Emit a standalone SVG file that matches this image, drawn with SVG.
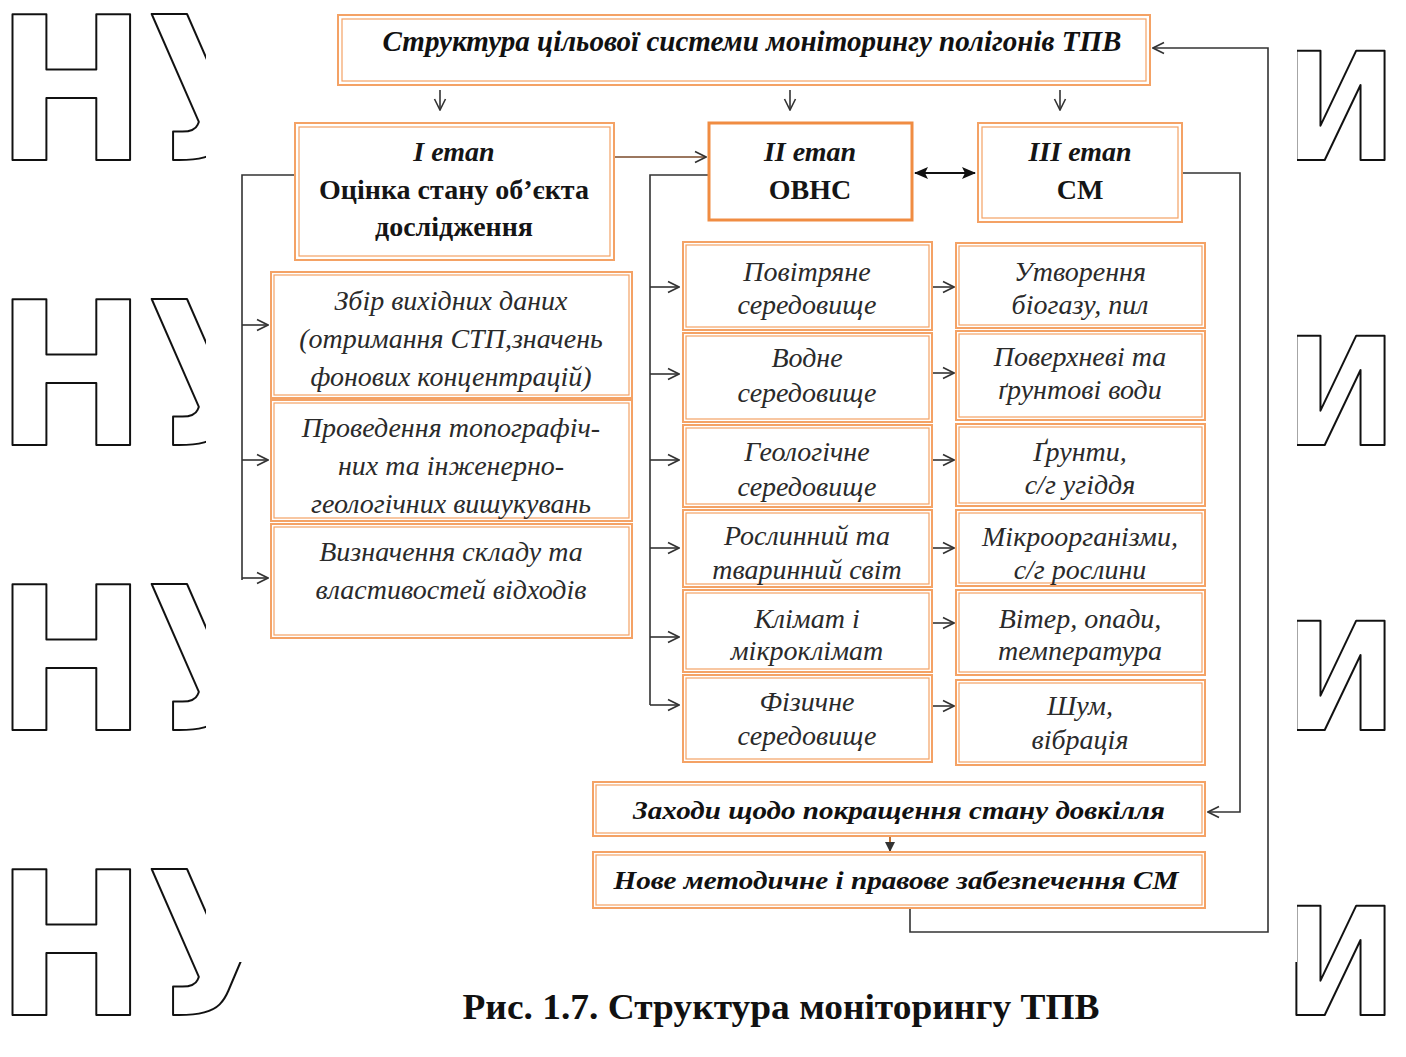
<svg xmlns="http://www.w3.org/2000/svg" width="1406" height="1057" viewBox="0 0 1406 1057">
<defs>
<style>
.wm{font-family:"DejaVu Sans",sans-serif;font-weight:bold;font-stretch:condensed;fill:none;stroke:#111;stroke-width:2;stroke-linejoin:round}
.ob{fill:#fff;stroke:#F4A265;stroke-width:2}
.ib{fill:none;stroke:#F4A265;stroke-width:1.2}
.sb{fill:#fff;stroke:#F08C42;stroke-width:3}
.hdr{font-family:"Liberation Serif","Times New Roman",serif;font-size:28px;font-weight:bold;fill:#151515;text-anchor:middle}
.hi{font-style:italic}
.it{font-family:"Liberation Serif","Times New Roman",serif;font-size:28px;font-style:italic;fill:#2a2a2a;text-anchor:middle}
.ttl{font-family:"Liberation Serif","Times New Roman",serif;font-size:29px;font-weight:bold;font-style:italic;fill:#111;text-anchor:middle}
.cap{font-family:"Liberation Serif","Times New Roman",serif;font-size:36px;font-weight:bold;fill:#111;text-anchor:middle}
.ln{fill:none;stroke:#333;stroke-width:1.6}
</style>
<marker id="op" viewBox="0 0 14 14" refX="13" refY="7" markerWidth="14" markerHeight="14" markerUnits="userSpaceOnUse" orient="auto"><path d="M2,1.5 L13,7 L2,12.5" fill="none" stroke="#333" stroke-width="1.6"/></marker>
<marker id="sd" viewBox="0 0 14 12" refX="13" refY="6" markerWidth="14" markerHeight="12" markerUnits="userSpaceOnUse" orient="auto-start-reverse"><path d="M0,0 L14,6 L0,12 L3,6 z" fill="#111"/></marker>
<marker id="sm" viewBox="0 0 10 10" refX="9" refY="5" markerWidth="10" markerHeight="10" markerUnits="userSpaceOnUse" orient="auto"><path d="M0,0 L10,5 L0,10 z" fill="#333"/></marker>
</defs>
<rect x="0" y="0" width="1406" height="1057" fill="#fff"/>
<g id="watermark">
<text class="wm" x="-4" y="160" font-size="200">НУ</text>
<text class="wm" x="-4" y="445" font-size="200">НУ</text>
<text class="wm" x="-4" y="730" font-size="200">НУ</text>
<text class="wm" x="-4" y="1015" font-size="200">НУ</text>
<text class="wm" x="1284" y="160" font-size="150">И</text>
<text class="wm" x="1284" y="445" font-size="150">И</text>
<text class="wm" x="1284" y="730" font-size="150">И</text>
<text class="wm" x="1284" y="1015" font-size="150">И</text>
</g>
<rect x="206" y="0" width="1091" height="962" fill="#fff"/>
<g id="connectors">
<path class="ln" d="M440,90 V110" marker-end="url(#op)"/>
<path class="ln" d="M790,90 V110" marker-end="url(#op)"/>
<path class="ln" d="M1060,90 V110" marker-end="url(#op)"/>
<path class="ln" d="M614,157 H706" style="stroke:#7a4a2a" marker-end="url(#op)"/>
<path class="ln" d="M915,173 H975" style="stroke:#111;stroke-width:2" marker-start="url(#sd)" marker-end="url(#sd)"/>
<path class="ln" d="M295,175 H242 V580"/>
<path class="ln" d="M242,325 H268" marker-end="url(#op)"/>
<path class="ln" d="M242,460 H268" marker-end="url(#op)"/>
<path class="ln" d="M242,578 H268" marker-end="url(#op)"/>
<path class="ln" d="M709,175 H650 V705"/>
<path class="ln" d="M650,287 H679" marker-end="url(#op)"/>
<path class="ln" d="M650,374 H679" marker-end="url(#op)"/>
<path class="ln" d="M650,460 H679" marker-end="url(#op)"/>
<path class="ln" d="M650,548 H679" marker-end="url(#op)"/>
<path class="ln" d="M650,637 H679" marker-end="url(#op)"/>
<path class="ln" d="M650,705 H679" marker-end="url(#op)"/>
<path class="ln" d="M932,287 H954" marker-end="url(#op)"/>
<path class="ln" d="M932,373 H954" marker-end="url(#op)"/>
<path class="ln" d="M932,460 H954" marker-end="url(#op)"/>
<path class="ln" d="M932,548 H954" marker-end="url(#op)"/>
<path class="ln" d="M932,623 H954" marker-end="url(#op)"/>
<path class="ln" d="M932,706 H954" marker-end="url(#op)"/>
<path class="ln" d="M1182,173 H1240 V812 H1208" marker-end="url(#op)"/>
<path class="ln" d="M910,908 V932 H1268 V48 H1153" marker-end="url(#op)"/>
<path class="ln" d="M890,836 V851" style="stroke:#c07030;stroke-width:2" marker-end="url(#sm)"/>
</g>
<g id="title">
<rect class="ob" x="338" y="15" width="812" height="70"/>
<rect class="ib" x="342" y="19" width="804" height="62"/>
<text class="ttl" x="752" y="51" textLength="739" lengthAdjust="spacingAndGlyphs">Структура цільової системи моніторингу полігонів ТПВ</text>
</g>
<g id="stage1">
<rect class="ob" x="295" y="123" width="319" height="137"/>
<rect class="ib" x="299" y="127" width="311" height="129"/>
<text class="hdr hi" x="454" y="161">I етап</text>
<text class="hdr" x="454" y="199">Оцінка стану об’єкта</text>
<text class="hdr" x="454" y="236">дослідження</text>
</g>
<g id="stage2">
<rect class="sb" x="709" y="123" width="203" height="97"/>
<text class="hdr hi" x="810" y="161">II етап</text>
<text class="hdr" x="810" y="199">ОВНС</text>
</g>
<g id="stage3">
<rect class="ob" x="978" y="123" width="204" height="99"/>
<rect class="ib" x="982" y="127" width="196" height="91"/>
<text class="hdr hi" x="1080" y="161">III етап</text>
<text class="hdr" x="1080" y="199">СМ</text>
</g>
<g id="s1a">
<rect class="ob" x="271" y="272" width="361" height="126"/>
<rect class="ib" x="274" y="275" width="355" height="120"/>
<text class="it" x="451" y="310">Збір вихідних даних</text>
<text class="it" x="451" y="348">(отримання СТП,значень</text>
<text class="it" x="451" y="386">фонових концентрацій)</text>
</g>
<g id="s1b">
<rect class="ob" x="271" y="400" width="361" height="121"/>
<rect class="ib" x="274" y="403" width="355" height="115"/>
<text class="it" x="451" y="437">Проведення топографіч-</text>
<text class="it" x="451" y="475">них та інженерно-</text>
<text class="it" x="451" y="513">геологічних вишукувань</text>
</g>
<g id="s1c">
<rect class="ob" x="271" y="524" width="361" height="114"/>
<rect class="ib" x="274" y="527" width="355" height="108"/>
<text class="it" x="451" y="561">Визначення складу та</text>
<text class="it" x="451" y="599">властивостей відходів</text>
</g>
<g id="s2a"><rect class="ob" x="683" y="242" width="249" height="88"/><rect class="ib" x="686" y="245" width="243" height="82"/>
<text class="it" x="807" y="281">Повітряне</text><text class="it" x="807" y="314">середовище</text></g>
<g id="s2b"><rect class="ob" x="683" y="333" width="249" height="89"/><rect class="ib" x="686" y="336" width="243" height="83"/>
<text class="it" x="807" y="367">Водне</text><text class="it" x="807" y="402">середовище</text></g>
<g id="s2c"><rect class="ob" x="683" y="425" width="249" height="82"/><rect class="ib" x="686" y="428" width="243" height="76"/>
<text class="it" x="807" y="461">Геологічне</text><text class="it" x="807" y="496">середовище</text></g>
<g id="s2d"><rect class="ob" x="683" y="510" width="249" height="77"/><rect class="ib" x="686" y="513" width="243" height="71"/>
<text class="it" x="807" y="545">Рослинний та</text><text class="it" x="807" y="579">тваринний світ</text></g>
<g id="s2e"><rect class="ob" x="683" y="590" width="249" height="82"/><rect class="ib" x="686" y="593" width="243" height="76"/>
<text class="it" x="807" y="628">Клімат і</text><text class="it" x="807" y="660">мікроклімат</text></g>
<g id="s2f"><rect class="ob" x="683" y="675" width="249" height="87"/><rect class="ib" x="686" y="678" width="243" height="81"/>
<text class="it" x="807" y="711">Фізичне</text><text class="it" x="807" y="745">середовище</text></g>
<g id="s3a"><rect class="ob" x="956" y="243" width="249" height="85"/><rect class="ib" x="959" y="246" width="243" height="79"/>
<text class="it" x="1080" y="281">Утворення</text><text class="it" x="1080" y="314">біогазу, пил</text></g>
<g id="s3b"><rect class="ob" x="956" y="331" width="249" height="89"/><rect class="ib" x="959" y="334" width="243" height="83"/>
<text class="it" x="1080" y="366">Поверхневі та</text><text class="it" x="1080" y="399">ґрунтові води</text></g>
<g id="s3c"><rect class="ob" x="956" y="424" width="249" height="82"/><rect class="ib" x="959" y="427" width="243" height="76"/>
<text class="it" x="1080" y="461">Ґрунти,</text><text class="it" x="1080" y="494">с/г угіддя</text></g>
<g id="s3d"><rect class="ob" x="956" y="510" width="249" height="76"/><rect class="ib" x="959" y="513" width="243" height="70"/>
<text class="it" x="1080" y="546">Мікроорганізми,</text><text class="it" x="1080" y="579">с/г рослини</text></g>
<g id="s3e"><rect class="ob" x="956" y="590" width="249" height="85"/><rect class="ib" x="959" y="593" width="243" height="79"/>
<text class="it" x="1080" y="628">Вітер, опади,</text><text class="it" x="1080" y="660">температура</text></g>
<g id="s3f"><rect class="ob" x="956" y="680" width="249" height="85"/><rect class="ib" x="959" y="683" width="243" height="79"/>
<text class="it" x="1080" y="715">Шум,</text><text class="it" x="1080" y="749">вібрація</text></g>
<g id="measures">
<rect class="ob" x="593" y="782" width="612" height="54"/>
<rect class="ib" x="596" y="785" width="606" height="48"/>
<text class="ttl" x="899" y="819" style="font-size:26px" textLength="532" lengthAdjust="spacingAndGlyphs">Заходи щодо покращення стану довкілля</text>
</g>
<g id="support">
<rect class="ob" x="593" y="852" width="612" height="56"/>
<rect class="ib" x="596" y="855" width="606" height="50"/>
<text class="ttl" x="896" y="889" style="font-size:26px" textLength="565" lengthAdjust="spacingAndGlyphs">Нове методичне і правове забезпечення СМ</text>
</g>
<text class="cap" x="781" y="1019" textLength="637" lengthAdjust="spacingAndGlyphs">Рис. 1.7. Структура моніторингу ТПВ</text>
</svg>
